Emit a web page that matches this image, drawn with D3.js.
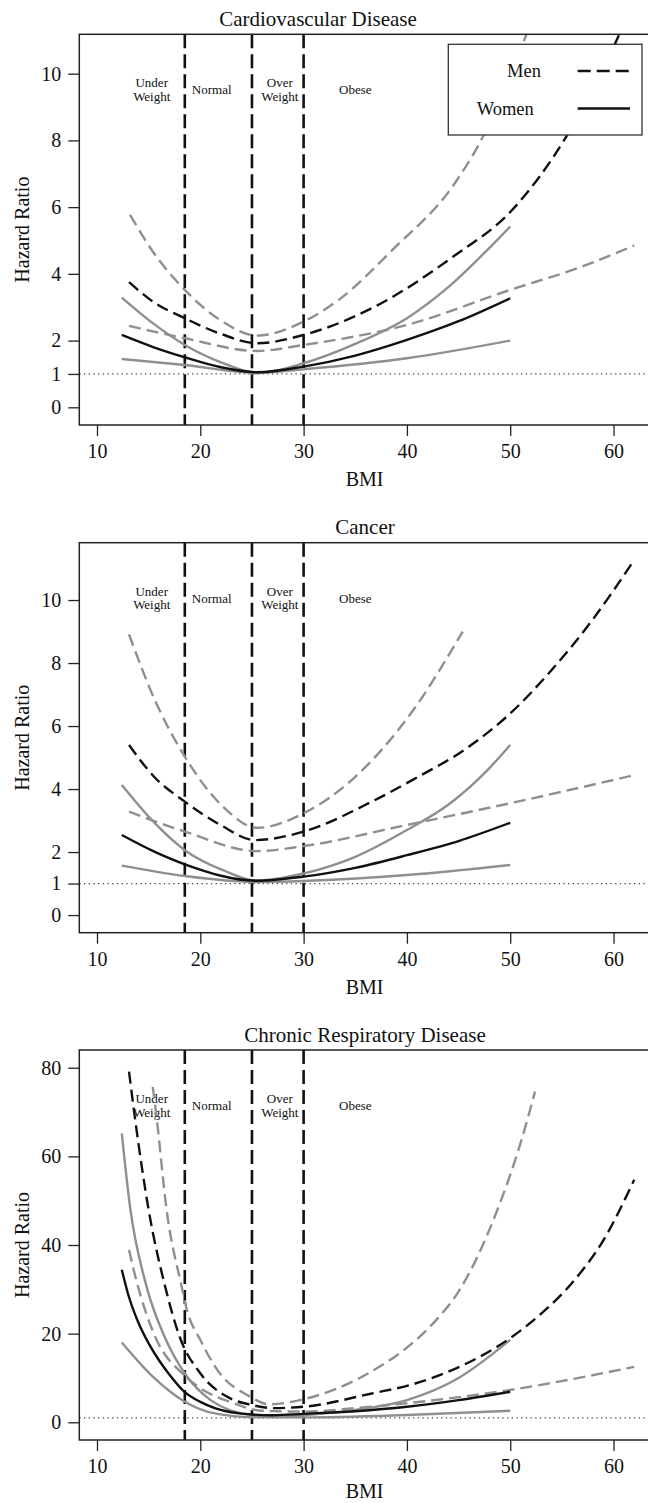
<!DOCTYPE html>
<html>
<head>
<meta charset="utf-8">
<title>Hazard ratio by BMI</title>
<script src="https://d3js.org/d3.v7.min.js"></script>
<style>
  body { margin: 0; background: #fff; }
  svg text { font-family: "Liberation Serif", "Times New Roman", serif; fill: #111; }
</style>
</head>
<body>
<svg id="chart" width="648" height="1503"></svg>
<script>
// ---- data: [BMI, hazard ratio] ----
const regionNames = [["Under", "Weight"], ["Normal"], ["Over", "Weight"], ["Obese"]];
const regionAt = [15.3, 21.1, 27.7, 35.0];
const cutoffs = [18.5, 25, 30];
const xTicks = [10, 20, 30, 40, 50, 60];

// Cardiovascular disease
const cvdMenEst = [[13.1,3.75],[15.5,3.15],[18.5,2.67],[22,2.2],[25.5,1.92],[30,2.17],[36.6,2.97],[44.4,4.5],[50.2,5.92],[55.4,8.1],[60,10.8],[62,12.2]];
const cvdMenHi = [[13.2,5.77],[15.4,4.67],[18.5,3.52],[22,2.6],[25.5,2.15],[30,2.57],[33.4,3.22],[38.6,4.72],[44.6,6.7],[47,7.9],[50,9.9],[52.5,12.0]];
const cvdMenLo = [[13.1,2.44],[18.5,2.07],[25.5,1.69],[30,1.87],[40,2.47],[50,3.52],[56.6,4.18],[62,4.85]];
const cvdWomenEst = [[12.4,2.17],[15.5,1.8],[18.5,1.5],[22,1.2],[25.5,1.05],[30,1.22],[35,1.55],[40,2.02],[45,2.58],[50,3.27]];
const cvdWomenHi = [[12.4,3.29],[15.5,2.5],[18.5,1.87],[22,1.35],[25.5,1.03],[30,1.32],[35,1.9],[40,2.67],[44,3.6],[47.8,4.72],[50,5.42]];
const cvdWomenLo = [[12.4,1.45],[18.5,1.27],[25.5,1.03],[30,1.14],[40,1.47],[50,2.0]];
const cvdYTicks = [0, 1, 2, 4, 6, 8, 10];

// Cancer
const canMenEst = [[13.1,5.4],[15.5,4.4],[18.5,3.6],[22,2.85],[25.3,2.38],[30,2.65],[36.6,3.6],[40.6,4.3],[45.8,5.3],[50,6.4],[53.8,7.7],[57.8,9.3],[62,11.27]];
const canMenHi = [[13.1,8.91],[15.5,6.9],[18.5,5.03],[22.2,3.44],[25.5,2.77],[30,3.23],[35,4.39],[40.6,6.5],[45.4,9.0]];
const canMenLo = [[13.1,3.28],[18.5,2.65],[25.5,2.03],[30,2.19],[40,2.86],[50,3.55],[62,4.44]];
const canWomenEst = [[12.4,2.54],[15.5,2.02],[18.5,1.61],[25.5,1.09],[30,1.22],[35,1.5],[40,1.9],[45,2.35],[50,2.93]];
const canWomenHi = [[12.4,4.13],[15.5,2.95],[18.5,2.06],[22,1.45],[25.5,1.1],[30,1.32],[35,1.85],[40,2.7],[44,3.5],[47.8,4.6],[50,5.4]];
const canWomenLo = [[12.4,1.57],[18.5,1.24],[25.5,1.05],[30,1.08],[40,1.27],[50,1.59]];
const canYTicks = [0, 1, 2, 4, 6, 8, 10];

// Chronic respiratory disease
const crdMenEst = [[13.1,79.1],[13.7,68.2],[15.0,47.9],[16.6,30.6],[18.0,19.3],[20.0,11.05],[22.9,5.4],[25,3.9],[27,3.2],[30,3.5],[36.6,6.5],[40.6,8.6],[44.6,12],[50,19],[53,24.5],[56,31.5],[59,41],[62,54.7]];
const crdMenHi = [[15.4,75.7],[15.8,68.2],[16.7,48.6],[18.2,30.6],[18.7,25.4],[20,18.6],[21.9,11],[24.5,6.2],[26.7,4.06],[30,5.2],[36.6,11.5],[40.6,18],[43,23.5],[45,29.5],[48.6,47],[51,63],[52.4,74.6]];
const crdMenLo = [[13.1,38.9],[13.8,32.1],[15.5,20],[18.5,10.5],[20,7.7],[22.9,4.6],[26,2.6],[30,2.4],[35,3.2],[40,4.3],[50,7.3],[62,12.5]];
const crdWomenEst = [[12.4,34.4],[13,29],[14,22.5],[15,17.8],[16,14],[17,10.8],[18.5,6.8],[20,4.6],[21.4,3.2],[25,1.75],[27,1.6],[30,1.9],[35,2.5],[40,3.5],[45,5],[50,6.9]];
const crdWomenHi = [[12.4,65.2],[13.2,48.6],[14.8,30.6],[16.6,19],[18.5,11],[21,5],[25,1.6],[27,1.3],[30,1.6],[35,2.8],[40,5],[45,10],[50,18.6]];
const crdWomenLo = [[12.4,18],[15.4,10.3],[18.5,4.65],[21.4,2.0],[25,1.15],[30,1.1],[40,1.65],[50,2.6]];
const crdYTicks = [0, 20, 40, 60, 80];

// ---- layout ----
const svg = d3.select("#chart");
const left = 79.3, right = 650;
const black = "#111", grey = "#8f8f8f";
const serif = "'Liberation Serif', 'Times New Roman', serif";

const panels = [
  { title: "Cardiovascular Disease", titleX: 318, top: 34.3, bottom: 425, yDom: [-0.53, 11.18], ticks: cvdYTicks,
    series: [cvdMenHi, cvdMenLo, cvdWomenHi, cvdWomenLo, cvdMenEst, cvdWomenEst], legend: true, bmiGap: 61 },
  { title: "Cancer", titleX: 365, top: 542.7, bottom: 932.7, yDom: [-0.56, 11.82], ticks: canYTicks,
    series: [canMenHi, canMenLo, canWomenHi, canWomenLo, canMenEst, canWomenEst], bmiGap: 61 },
  { title: "Chronic Respiratory Disease", titleX: 365, top: 1050, bottom: 1440, yDom: [-4.0, 84.0], ticks: crdYTicks,
    series: [crdMenHi, crdMenLo, crdWomenHi, crdWomenLo, crdMenEst, crdWomenEst], bmiGap: 58 }
];
// style for each series slot: men CI, men CI, women CI, women CI, men, women
const styles = [
  { c: grey, dash: "12,6" }, { c: grey, dash: "12,6" },
  { c: grey, dash: null }, { c: grey, dash: null },
  { c: black, dash: "12,6" }, { c: black, dash: null }
];

const x = d3.scaleLinear().domain([8.287, 63.53]).range([left, right]);

panels.forEach((p, i) => {
  const y = d3.scaleLinear().domain(p.yDom).range([p.bottom, p.top]);
  const g = svg.append("g");

  g.append("clipPath").attr("id", "clip" + i)
    .append("rect").attr("x", left).attr("y", p.top).attr("width", right - left).attr("height", p.bottom - p.top);

  // reference line HR = 1
  g.append("line").attr("x1", left).attr("x2", right).attr("y1", y(1)).attr("y2", y(1))
    .attr("stroke", "#444").attr("stroke-width", 1.3).attr("stroke-dasharray", "1.3,3.4");

  // BMI category cut-offs
  g.selectAll(".cut").data(cutoffs).join("line")
    .attr("x1", d => x(d)).attr("x2", d => x(d)).attr("y1", p.top).attr("y2", p.bottom)
    .attr("stroke", black).attr("stroke-width", 2.6).attr("stroke-dasharray", "14,6");

  // category labels
  regionNames.forEach((lines, k) => {
    const t = g.append("text").attr("text-anchor", "middle").attr("font-size", 13);
    if (lines.length === 2) {
      t.append("tspan").attr("x", x(regionAt[k])).attr("y", p.top + 53).text(lines[0]);
      t.append("tspan").attr("x", x(regionAt[k])).attr("y", p.top + 66.5).text(lines[1]);
    } else {
      t.attr("x", x(regionAt[k])).attr("y", p.top + 60).text(lines[0]);
    }
  });

  // curves
  const line = d3.line().x(d => x(d[0])).y(d => y(d[1])).curve(d3.curveMonotoneX);
  const cg = g.append("g").attr("clip-path", `url(#clip${i})`);
  p.series.forEach((s, k) => {
    cg.append("path").attr("d", line(s)).attr("fill", "none")
      .attr("stroke", styles[k].c).attr("stroke-width", 2.4)
      .attr("stroke-dasharray", styles[k].dash);
  });

  // frame
  g.append("rect").attr("x", left).attr("y", p.top).attr("width", right - left).attr("height", p.bottom - p.top)
    .attr("fill", "none").attr("stroke", "#222").attr("stroke-width", 1.5);

  // axes
  const ya = g.append("g").attr("transform", `translate(${left},0)`)
    .call(d3.axisLeft(y).tickValues(p.ticks).tickSize(11).tickPadding(7).tickFormat(d3.format("d")));
  const xa = g.append("g").attr("transform", `translate(0,${p.bottom})`)
    .call(d3.axisBottom(x).tickValues(xTicks).tickSize(11).tickPadding(8).tickFormat(d3.format("d")));
  [ya, xa].forEach(a => {
    a.attr("font-family", serif);
    a.select(".domain").remove();
    a.selectAll("line").attr("stroke", "#222").attr("stroke-width", 1.3);
    a.selectAll("text").attr("font-size", 20).attr("fill", "#111");
  });

  g.append("text").attr("x", p.titleX).attr("y", p.top - 8.5).attr("text-anchor", "middle")
    .attr("font-size", 21).text(p.title);
  g.append("text").attr("x", (left + right) / 2).attr("y", p.bottom + p.bmiGap).attr("text-anchor", "middle")
    .attr("font-size", 20).text("BMI");
  g.append("text").attr("transform", `translate(29,${(p.top + p.bottom) / 2}) rotate(-90)`)
    .attr("text-anchor", "middle").attr("font-size", 20).text("Hazard Ratio");

  if (p.legend) {
    const lg = g.append("g");
    lg.append("rect").attr("x", 448.3).attr("y", 44.3).attr("width", 193.7).attr("height", 90.7)
      .attr("fill", "#fff").attr("stroke", "#333").attr("stroke-width", 1.3);
    lg.append("text").attr("x", 507).attr("y", 77.3).attr("font-size", 18.5).text("Men");
    lg.append("text").attr("x", 476.7).attr("y", 115).attr("font-size", 18.5).text("Women");
    lg.append("line").attr("x1", 577.7).attr("x2", 630).attr("y1", 71).attr("y2", 71)
      .attr("stroke", black).attr("stroke-width", 2.6).attr("stroke-dasharray", "13,6");
    lg.append("line").attr("x1", 577.7).attr("x2", 630).attr("y1", 108.5).attr("y2", 108.5)
      .attr("stroke", black).attr("stroke-width", 2.6);
  }
});
</script>
</body>
</html>
